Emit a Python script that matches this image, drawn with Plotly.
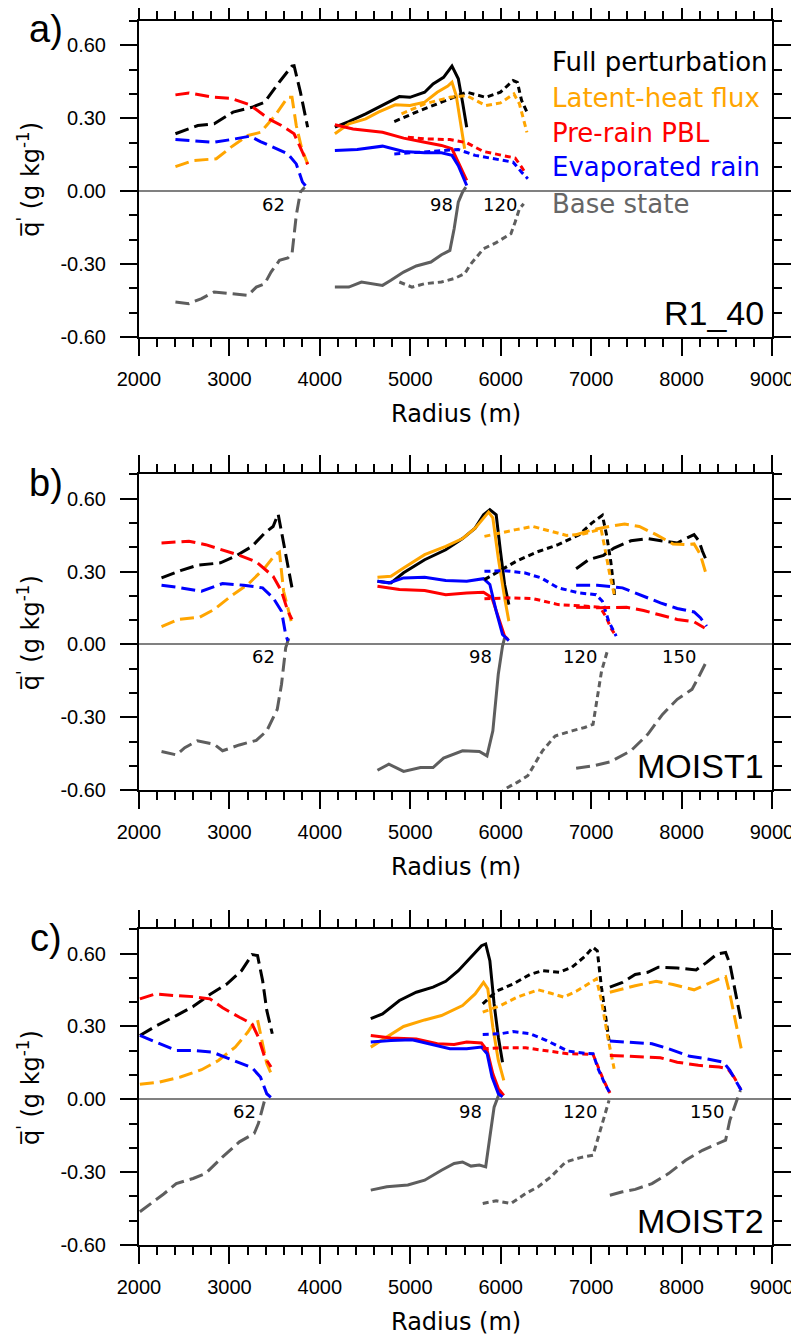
import plotly.graph_objects as go

# ---------------- data: panel a (R1_40) ----------------
A62_FULL_X = [2403, 2650, 2831, 3040, 3250, 3390, 3550, 3690, 3715, 3785, 3865]
A62_FULL_Y = [0.236, 0.270, 0.277, 0.325, 0.345, 0.366, 0.448, 0.514, 0.516, 0.407, 0.263]
A62_LAT_X = [2403, 2600, 2855, 3018, 3205, 3345, 3505, 3645, 3692, 3739, 3800, 3865]
A62_LAT_Y = [0.101, 0.126, 0.133, 0.181, 0.229, 0.242, 0.311, 0.386, 0.386, 0.270, 0.174, 0.112]
A62_PBL_X = [2403, 2552, 2831, 3018, 3226, 3436, 3575, 3715, 3808, 3865]
A62_PBL_Y = [0.396, 0.404, 0.386, 0.382, 0.355, 0.297, 0.270, 0.236, 0.160, 0.110]
A62_EVAP_X = [2403, 2600, 2831, 3018, 3226, 3343, 3483, 3646, 3739, 3808, 3855]
A62_EVAP_Y = [0.212, 0.208, 0.201, 0.212, 0.226, 0.204, 0.181, 0.153, 0.112, 0.037, 0.016]
A62_BASE_X = [2403, 2552, 2692, 2831, 3018, 3205, 3297, 3390, 3460, 3553, 3646, 3692, 3739, 3785, 3832]
A62_BASE_Y = [-0.456, -0.463, -0.442, -0.415, -0.422, -0.429, -0.395, -0.381, -0.333, -0.285, -0.275, -0.258, -0.100, -0.004, 0.016]

A98_FULL_X = [4166, 4320, 4507, 4693, 4879, 4996, 5159, 5252, 5368, 5461, 5531, 5578, 5624]
A98_FULL_Y = [0.263, 0.286, 0.318, 0.352, 0.389, 0.386, 0.407, 0.441, 0.468, 0.514, 0.462, 0.366, 0.263]
A98_LAT_X = [4166, 4320, 4507, 4647, 4833, 4996, 5159, 5298, 5415, 5461, 5508, 5555, 5601]
A98_LAT_Y = [0.236, 0.277, 0.297, 0.325, 0.355, 0.352, 0.366, 0.407, 0.432, 0.448, 0.393, 0.284, 0.174]
A98_PBL_X = [4166, 4367, 4693, 4926, 5159, 5345, 5461, 5531, 5624]
A98_PBL_Y = [0.273, 0.256, 0.242, 0.218, 0.201, 0.188, 0.174, 0.119, 0.044]
A98_EVAP_X = [4166, 4413, 4693, 4926, 5159, 5345, 5461, 5531, 5624]
A98_EVAP_Y = [0.167, 0.171, 0.185, 0.163, 0.158, 0.158, 0.147, 0.105, 0.023]
A98_BASE_X = [4166, 4320, 4460, 4693, 4786, 4926, 5066, 5228, 5345, 5438, 5485, 5531, 5578, 5615]
A98_BASE_Y = [-0.395, -0.395, -0.374, -0.388, -0.367, -0.333, -0.308, -0.292, -0.262, -0.244, -0.155, -0.045, -0.004, 0.016]

A120_FULL_X = [4823, 5066, 5345, 5624, 5834, 5997, 6137, 6184, 6231, 6290]
A120_FULL_Y = [0.286, 0.325, 0.366, 0.407, 0.386, 0.407, 0.455, 0.448, 0.373, 0.325]
A120_LAT_X = [4903, 5159, 5438, 5624, 5834, 5997, 6146, 6207, 6290]
A120_LAT_Y = [0.318, 0.359, 0.386, 0.393, 0.352, 0.363, 0.400, 0.359, 0.242]
A120_PBL_X = [4973, 5159, 5438, 5624, 5810, 5997, 6160, 6231, 6277]
A120_PBL_Y = [0.222, 0.215, 0.212, 0.199, 0.163, 0.149, 0.136, 0.099, 0.071]
A120_EVAP_X = [4823, 5066, 5345, 5531, 5717, 5950, 6137, 6231, 6300]
A120_EVAP_Y = [0.153, 0.160, 0.167, 0.171, 0.147, 0.130, 0.119, 0.078, 0.051]
A120_BASE_X = [4879, 5019, 5159, 5345, 5485, 5601, 5671, 5810, 5950, 6113, 6160, 6207, 6254]
A120_BASE_Y = [-0.374, -0.395, -0.381, -0.374, -0.360, -0.340, -0.299, -0.237, -0.212, -0.175, -0.127, -0.073, -0.052]

# ---------------- data: panel b (MOIST1) ----------------
B62_FULL_X = [2249, 2459, 2645, 2901, 3064, 3250, 3390, 3483, 3539, 3576, 3646, 3692]
B62_FULL_Y = [0.274, 0.304, 0.326, 0.336, 0.363, 0.404, 0.459, 0.486, 0.537, 0.466, 0.329, 0.233]
B62_LAT_X = [2249, 2436, 2669, 2831, 3018, 3204, 3390, 3506, 3553, 3599, 3692]
B62_LAT_Y = [0.073, 0.103, 0.112, 0.144, 0.199, 0.247, 0.315, 0.370, 0.381, 0.219, 0.082]
B62_PBL_X = [2249, 2552, 2738, 2924, 3110, 3297, 3483, 3576, 3646, 3692]
B62_PBL_Y = [0.418, 0.425, 0.411, 0.390, 0.367, 0.340, 0.281, 0.219, 0.137, 0.103]
B62_EVAP_X = [2249, 2413, 2692, 2924, 3157, 3367, 3483, 3576, 3622, 3646]
B62_EVAP_Y = [0.244, 0.236, 0.219, 0.251, 0.244, 0.233, 0.192, 0.137, 0.041, 0.014]
B62_BASE_X = [2249, 2413, 2506, 2645, 2831, 2924, 3110, 3297, 3413, 3529, 3576, 3622, 3669]
B62_BASE_Y = [-0.441, -0.455, -0.425, -0.397, -0.411, -0.438, -0.414, -0.395, -0.356, -0.267, -0.164, -0.014, 0.041]

B98_FULL_X = [4637, 4786, 4926, 5159, 5392, 5578, 5717, 5810, 5880, 5950, 5997, 6043, 6090]
B98_FULL_Y = [0.260, 0.253, 0.295, 0.349, 0.390, 0.436, 0.479, 0.534, 0.555, 0.534, 0.384, 0.247, 0.164]
B98_LAT_X = [4637, 4786, 4926, 5159, 5392, 5578, 5717, 5810, 5866, 5913, 5973, 6043, 6090]
B98_LAT_Y = [0.277, 0.281, 0.315, 0.370, 0.404, 0.436, 0.479, 0.523, 0.545, 0.521, 0.356, 0.192, 0.096]
B98_PBL_X = [4637, 4880, 5159, 5392, 5624, 5810, 5903, 5973, 6043, 6080]
B98_PBL_Y = [0.240, 0.226, 0.222, 0.205, 0.212, 0.215, 0.192, 0.110, 0.034, 0.021]
B98_EVAP_X = [4637, 4763, 4926, 5159, 5392, 5624, 5810, 5880, 5950, 6020, 6090]
B98_EVAP_Y = [0.260, 0.253, 0.274, 0.277, 0.263, 0.260, 0.271, 0.247, 0.137, 0.041, 0.016]
B98_BASE_X = [4637, 4763, 4926, 5113, 5252, 5368, 5578, 5764, 5848, 5913, 5973, 6020, 6043]
B98_BASE_Y = [-0.518, -0.493, -0.523, -0.507, -0.507, -0.468, -0.438, -0.441, -0.459, -0.356, -0.123, -0.007, 0.027]

B120_FULL_X = [5820, 5983, 6169, 6402, 6635, 6868, 7007, 7124, 7170, 7217, 7263]
B120_FULL_Y = [0.267, 0.301, 0.342, 0.381, 0.411, 0.452, 0.500, 0.532, 0.452, 0.342, 0.192]
B120_LAT_X = [5820, 5983, 6169, 6355, 6542, 6728, 6914, 7054, 7110, 7150, 7200, 7263]
B120_LAT_Y = [0.445, 0.459, 0.473, 0.486, 0.466, 0.449, 0.455, 0.470, 0.475, 0.400, 0.300, 0.192]
B120_PBL_X = [5820, 6076, 6355, 6635, 6914, 7100, 7170, 7217, 7277]
B120_PBL_Y = [0.188, 0.192, 0.189, 0.164, 0.158, 0.153, 0.110, 0.068, 0.034]
B120_EVAP_X = [5820, 6030, 6262, 6448, 6635, 6868, 7054, 7124, 7194, 7277]
B120_EVAP_Y = [0.301, 0.304, 0.295, 0.274, 0.233, 0.212, 0.205, 0.178, 0.096, 0.034]
B120_BASE_X = [5990, 6043, 6183, 6299, 6462, 6602, 6788, 6928, 7021, 7068, 7115, 7184]
B120_BASE_Y = [-0.620, -0.596, -0.568, -0.541, -0.438, -0.377, -0.356, -0.342, -0.329, -0.219, -0.110, -0.021]

B150_FULL_X = [6834, 6974, 7137, 7253, 7440, 7626, 7812, 7952, 8045, 8138, 8194, 8231, 8278]
B150_FULL_Y = [0.312, 0.349, 0.367, 0.397, 0.427, 0.436, 0.425, 0.418, 0.436, 0.452, 0.425, 0.384, 0.342]
B150_LAT_X = [6834, 7021, 7207, 7370, 7533, 7719, 7905, 8045, 8138, 8208, 8278]
B150_LAT_Y = [0.452, 0.473, 0.486, 0.496, 0.486, 0.452, 0.414, 0.411, 0.414, 0.370, 0.281]
B150_PBL_X = [6834, 7068, 7393, 7580, 7766, 7952, 8138, 8255]
B150_PBL_Y = [0.153, 0.151, 0.153, 0.140, 0.121, 0.103, 0.093, 0.068]
B150_EVAP_X = [6834, 7068, 7347, 7580, 7766, 7952, 8138, 8208, 8278]
B150_EVAP_Y = [0.244, 0.244, 0.233, 0.199, 0.171, 0.148, 0.134, 0.110, 0.075]
B150_BASE_X = [6834, 7021, 7207, 7440, 7626, 7789, 7952, 8115, 8185, 8278]
B150_BASE_Y = [-0.510, -0.500, -0.484, -0.438, -0.370, -0.288, -0.226, -0.185, -0.137, -0.068]

# ---------------- data: panel c (MOIST2) ----------------
C62_FULL_X = [2010, 2179, 2412, 2598, 2784, 2971, 3134, 3250, 3311, 3367, 3413, 3474]
C62_FULL_Y = [0.263, 0.300, 0.345, 0.382, 0.432, 0.475, 0.530, 0.596, 0.592, 0.489, 0.366, 0.270]
C62_LAT_X = [2010, 2226, 2459, 2692, 2878, 3064, 3204, 3274, 3311, 3367, 3413, 3474]
C62_LAT_Y = [0.062, 0.071, 0.092, 0.122, 0.160, 0.215, 0.277, 0.318, 0.327, 0.229, 0.147, 0.095]
C62_PBL_X = [2010, 2179, 2412, 2598, 2784, 2925, 3111, 3250, 3320, 3390, 3460]
C62_PBL_Y = [0.414, 0.434, 0.427, 0.423, 0.414, 0.377, 0.338, 0.311, 0.256, 0.174, 0.133]
C62_EVAP_X = [2010, 2226, 2412, 2598, 2808, 2971, 3111, 3250, 3343, 3413, 3474]
C62_EVAP_Y = [0.263, 0.229, 0.201, 0.201, 0.195, 0.171, 0.149, 0.130, 0.092, 0.023, 0.003]
C62_BASE_X = [2010, 2133, 2273, 2412, 2598, 2738, 2925, 3111, 3274, 3320, 3367, 3399]
C62_BASE_Y = [-0.463, -0.429, -0.390, -0.347, -0.326, -0.305, -0.237, -0.175, -0.141, -0.100, -0.032, 0.010]

C98_FULL_X = [4563, 4693, 4880, 5066, 5252, 5392, 5531, 5671, 5788, 5834, 5880, 5927, 5974, 6020]
C98_FULL_Y = [0.332, 0.352, 0.407, 0.441, 0.462, 0.486, 0.530, 0.585, 0.633, 0.640, 0.571, 0.393, 0.256, 0.153]
C98_LAT_X = [4563, 4740, 4926, 5159, 5345, 5578, 5717, 5810, 5857, 5913, 5974, 6034]
C98_LAT_Y = [0.215, 0.256, 0.300, 0.327, 0.345, 0.386, 0.434, 0.482, 0.455, 0.297, 0.160, 0.078]
C98_PBL_X = [4563, 4786, 5066, 5299, 5485, 5624, 5787, 5850, 5913, 5974, 6034]
C98_PBL_Y = [0.263, 0.253, 0.249, 0.229, 0.226, 0.236, 0.232, 0.201, 0.105, 0.044, 0.016]
C98_EVAP_X = [4563, 4786, 5019, 5252, 5438, 5624, 5787, 5850, 5904, 5974, 6020]
C98_EVAP_Y = [0.236, 0.242, 0.245, 0.226, 0.208, 0.208, 0.215, 0.188, 0.092, 0.023, 0.010]
C98_BASE_X = [4563, 4740, 4973, 5159, 5345, 5485, 5578, 5671, 5764, 5834, 5880, 5927, 5997]
C98_BASE_Y = [-0.374, -0.360, -0.353, -0.333, -0.292, -0.264, -0.258, -0.275, -0.271, -0.278, -0.155, -0.032, 0.037]

C120_FULL_X = [5801, 5950, 6136, 6322, 6462, 6648, 6788, 6928, 7021, 7068, 7114, 7161, 7198]
C120_FULL_Y = [0.393, 0.445, 0.475, 0.514, 0.530, 0.523, 0.544, 0.588, 0.626, 0.612, 0.462, 0.338, 0.242]
C120_LAT_X = [5801, 5997, 6183, 6415, 6555, 6695, 6835, 6974, 7058, 7114, 7184, 7254]
C120_LAT_Y = [0.359, 0.386, 0.421, 0.451, 0.437, 0.421, 0.445, 0.475, 0.496, 0.407, 0.256, 0.126]
C120_PBL_X = [5801, 5997, 6276, 6509, 6741, 7021, 7077, 7138, 7208]
C120_PBL_Y = [0.208, 0.212, 0.212, 0.199, 0.188, 0.185, 0.133, 0.078, 0.026]
C120_EVAP_X = [5801, 5997, 6136, 6322, 6509, 6741, 6928, 7021, 7077, 7152, 7208]
C120_EVAP_Y = [0.267, 0.270, 0.279, 0.270, 0.242, 0.199, 0.190, 0.188, 0.126, 0.064, 0.026]
C120_BASE_X = [5801, 5950, 6113, 6276, 6415, 6555, 6718, 6881, 7021, 7077, 7138, 7198]
C120_BASE_Y = [-0.429, -0.418, -0.429, -0.388, -0.360, -0.319, -0.258, -0.240, -0.230, -0.155, -0.073, -0.004]

C150_FULL_X = [7207, 7347, 7487, 7626, 7743, 7952, 8161, 8278, 8394, 8487, 8534, 8604, 8660]
C150_FULL_Y = [0.462, 0.482, 0.514, 0.523, 0.544, 0.541, 0.533, 0.564, 0.599, 0.605, 0.558, 0.421, 0.318]
C150_LAT_X = [7207, 7347, 7487, 7719, 7905, 8138, 8278, 8417, 8487, 8534, 8594, 8660]
C150_LAT_Y = [0.441, 0.455, 0.468, 0.486, 0.473, 0.451, 0.475, 0.496, 0.505, 0.434, 0.325, 0.208]
C150_PBL_X = [7207, 7487, 7766, 7952, 8185, 8417, 8511, 8580, 8650]
C150_PBL_Y = [0.181, 0.177, 0.171, 0.153, 0.140, 0.133, 0.126, 0.092, 0.044]
C150_EVAP_X = [7207, 7440, 7673, 7859, 8092, 8278, 8464, 8534, 8604, 8660]
C150_EVAP_Y = [0.240, 0.236, 0.229, 0.208, 0.177, 0.167, 0.153, 0.119, 0.071, 0.037]
C150_BASE_X = [7207, 7347, 7487, 7673, 7859, 8045, 8231, 8394, 8487, 8534, 8604, 8650]
C150_BASE_Y = [-0.395, -0.381, -0.371, -0.347, -0.305, -0.251, -0.210, -0.182, -0.168, -0.086, -0.011, 0.037]

# labels
LEGEND_NAMES = ["Full perturbation", "Latent-heat flux", "Pre-rain PBL", "Evaporated rain", "Base state"]
PANEL_NAMES = ["R1_40", "MOIST1", "MOIST2"]
PANEL_LETTERS = ["a)", "b)", "c)"]
TIME_LABELS = ["62", "98", "120", "150"]
X_TICKS = [2000, 3000, 4000, 5000, 6000, 7000, 8000, 9000]
Y_TICKS = [-0.6, -0.3, 0.0, 0.3, 0.6]
Y_TICK_TEXT = ["-0.60", "-0.30", "0.00", "0.30", "0.60"]

# ---------------- styling ----------------
COLORS = {"FULL": "#000000", "LAT": "#FFA500", "PBL": "#FF0000", "EVAP": "#0000FF", "BASE": "#5E5E5E"}
LEGEND_COLORS = ["#000000", "#FFA500", "#FF0000", "#0000FF", "#666666"]
DASH = {"62": "14px,6px", "98": "solid", "120": "6px,4px", "150": "14px,6px"}
ORDER = ["BASE", "FULL", "LAT", "PBL", "EVAP"]

panels = [
    ("A", ["62", "98", "120"]),
    ("B", ["62", "98", "120", "150"]),
    ("C", ["62", "98", "120", "150"]),
]
g = globals()

fig = go.Figure()
for i, (p, times) in enumerate(panels):
    xa = "x" if i == 0 else f"x{i+1}"
    ya = "y" if i == 0 else f"y{i+1}"
    for t in times:
        for var in ORDER:
            fig.add_trace(go.Scatter(
                x=g[f"{p}{t}_{var}_X"], y=g[f"{p}{t}_{var}_Y"],
                mode="lines", xaxis=xa, yaxis=ya, showlegend=False,
                line=dict(color=COLORS[var], width=3, dash=DASH[t]),
                hoverinfo="skip"))

# page body has an 8px default margin: the figure is drawn at (8, 8)
OFF = 8
FIG_W, FIG_H = 799 - OFF, 1340 - OFF
TOP_PX, BOT_PX = 20.7 - OFF, 1245 - OFF          # plot area in figure coords
H = BOT_PX - TOP_PX
panel_px = [(20.7 - OFF, 336.7 - OFF), (474.3 - OFF, 790.0 - OFF), (929.3 - OFF, 1245.0 - OFF)]

def dom(top, bot):
    return [max(0.0, (BOT_PX - bot) / H), min(1.0, (BOT_PX - top) / H)]

axis_common = dict(
    showline=True, linecolor="black", linewidth=2, mirror="ticks",
    ticks="outside", ticklen=17, tickwidth=2, tickcolor="black",
    showgrid=False, zeroline=False, automargin=False,
    tickfont=dict(family="Liberation Sans", size=20, color="black"),
)

layout = dict(
    width=FIG_W, height=FIG_H,
    margin=dict(l=139 - OFF, r=FIG_W - (772 - OFF), t=TOP_PX, b=FIG_H - BOT_PX, pad=0),
    plot_bgcolor="white", paper_bgcolor="white",
    showlegend=False,
)
for i in range(3):
    sx = "" if i == 0 else str(i + 1)
    layout[f"xaxis{sx}"] = dict(
        axis_common, range=[2000, 9000], tickvals=X_TICKS, anchor=f"y{sx}",
        ticklabelstandoff=6,
        minor=dict(dtick=200, tick0=2000, ticklen=8, tickwidth=1.5, tickcolor="black", ticks="outside"),
    )
    layout[f"yaxis{sx}"] = dict(
        axis_common, range=[-0.6, 0.7], tickvals=Y_TICKS, ticktext=Y_TICK_TEXT,
        anchor=f"x{sx}", domain=dom(*panel_px[i]),
        zeroline=True, zerolinecolor="#808080", zerolinewidth=1.5,
        ticklabelstandoff=10,
        minor=dict(dtick=0.1, tick0=0, ticklen=8, tickwidth=1.5, tickcolor="black", ticks="outside"),
    )

fig.update_layout(**layout)

ann = []
# legend text (panel a)
leg_y = [0.870, 0.755, 0.645, 0.537, 0.420]
for name, col, yy in zip(LEGEND_NAMES, LEGEND_COLORS, leg_y):
    ann.append(dict(text=name, xref="x domain", yref="y domain", x=0.649, y=yy,
                    xanchor="left", yanchor="middle", showarrow=False,
                    font=dict(family="DejaVu Sans", size=26, color=col)))

# time labels
time_pos = [
    [(3485, -0.055), (5345, -0.055), (5997, -0.055)],
    [(3381, -0.050), (5773, -0.050), (6881, -0.050), (7975, -0.050)],
    [(3167, -0.052), (5671, -0.052), (6881, -0.052), (8278, -0.052)],
]
for i in range(3):
    sx = "" if i == 0 else str(i + 1)
    for lab, (xx, yy) in zip(TIME_LABELS, time_pos[i]):
        ann.append(dict(text=lab, xref=f"x{sx}", yref=f"y{sx}", x=xx, y=yy,
                        xanchor="center", yanchor="middle", showarrow=False,
                        font=dict(family="DejaVu Sans", size=18, color="black")))
    # panel name
    ann.append(dict(text=PANEL_NAMES[i], xref=f"x{sx} domain", yref=f"y{sx} domain",
                    x=0.9905, y=0.076, xanchor="right", yanchor="middle", showarrow=False,
                    font=dict(family="Liberation Sans", size=34, color="black")))
    # panel letter
    ann.append(dict(text=PANEL_LETTERS[i], xref=f"x{sx} domain", yref=f"y{sx} domain",
                    x=-0.147, y=0.974, xanchor="center", yanchor="middle", showarrow=False,
                    font=dict(family="Liberation Sans", size=38, color="black")))
    # y title
    ann.append(dict(text="q\u0305<sup>'</sup> (g kg<sup>-1</sup>)", xref=f"x{sx} domain",
                    yref=f"y{sx} domain", x=-0.174, y=0.50, textangle=-90,
                    xanchor="center", yanchor="middle", showarrow=False,
                    font=dict(family="DejaVu Sans", size=24, color="black")))
    # x title
    ann.append(dict(text="Radius (m)", xref=f"x{sx} domain", yref=f"y{sx} domain",
                    x=0.5, y=-0.2425, xanchor="center", yanchor="middle", showarrow=False,
                    font=dict(family="DejaVu Sans", size=24, color="black")))

fig.update_layout(annotations=ann)
fig.write_html("out.html")
